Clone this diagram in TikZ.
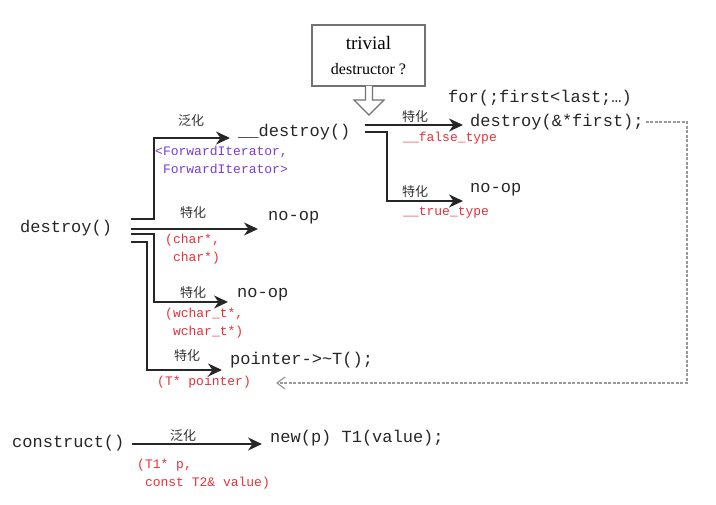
\documentclass[tikz,border=0pt]{standalone}
\usepackage{fontspec}
\setmainfont{Liberation Serif}
\setmonofont{Liberation Mono}
\newfontfamily\cjk{Noto Sans CJK SC}
\usetikzlibrary{arrows.meta,positioning}

\definecolor{argred}{RGB}{228,50,60}
\definecolor{iterblue}{RGB}{120,60,220}

\tikzset{
  code/.style={anchor=west,inner sep=0pt,text=black!85,font=\ttfamily\fontsize{17}{17}\selectfont},
  arg/.style={anchor=west,inner sep=0pt,align=left,text=argred,font=\ttfamily\fontsize{13}{18}\selectfont},
  kind/.style={inner sep=0pt,text=black!80,font=\cjk\fontsize{13}{13}\selectfont},
  link/.style={line width=2pt,draw=black!85,-{Stealth[length=14pt,width=13pt,inset=4.5pt]}},
  back/.style={line width=1.2pt,draw=black!40,dash pattern=on 3pt off 1.5pt,-{Straight Barb[length=8pt,width=12pt]}},
}

\begin{document}
\begin{tikzpicture}[x=1pt,y=-1pt]
  \useasboundingbox (0,0) rectangle (716,505);

  % Functions
  \node[code] (destroy) at (20,228) {destroy()};
  \node[code] (construct) at (12,443) {construct()};

  % Targets
  \node[code] (gdestroy) at (238,132) {\_\_destroy()};
  \node[code] (noopA) at (268,218) {no-op};
  \node[code] (noopB) at (237,295) {no-op};
  \node[code] (ptr) at (230,360) {pointer->\textasciitilde T();};
  \node[code] (loop) at (448,98) {for(;first<last;…)};
  \node[code] (fdestroy) at (470,122) {destroy(\&*first);};
  \node[code] (noopC) at (470,190) {no-op};
  \node[code] (newp) at (270,438) {new(p) T1(value);};

  % Question box
  \node[draw=black!55,line width=1.8pt,minimum width=113pt,minimum height=61pt,
    align=center,font=\fontsize{16}{25}\selectfont] (trivial) at (368.5,55.5)
    {{\fontsize{19}{19}\selectfont trivial}\\destructor ?};
  \draw[black!55,line width=1.2pt,fill=white] (365.5,86) -- (365.5,100) -- (354,100)
    -- (369,115) -- (384,100) -- (372.5,100) -- (372.5,86);

  % Kinds
  \node[kind] (k1) at (191,121) {泛化};
  \node[kind] (k2) at (193,213) {特化};
  \node[kind] (k3) at (193,293) {特化};
  \node[kind] (k4) at (187,356) {特化};
  \node[kind] (k5) at (415,117) {特化};
  \node[kind] (k6) at (415,192) {特化};
  \node[kind] (k7) at (183,436) {泛化};

  % Arguments
  \node[arg,text=iterblue] (a1) at (155,159.5) {<ForwardIterator,\\\hphantom{<}ForwardIterator>};
  \node[arg] (a2) at (165,249.5) {(char*,\\\hphantom{(}char*)};
  \node[arg] (a3) at (165,323.5) {(wchar\_t*,\\\hphantom{(}wchar\_t*)};
  \node[arg] (a4) at (157,382) {(T* pointer)};
  \node[arg] (a5) at (403,138) {\_\_false\_type};
  \node[arg] (a6) at (403,213) {\_\_true\_type};
  \node[arg] (a7) at (137,474) {(T1* p,\\\hphantom{(}const T2\& value)};

  % Branches
  \coordinate (s1) at (131,219);
  \coordinate (s2) at (131,229);
  \coordinate (s3) at (131,234);
  \coordinate (s4) at (131,242);
  \coordinate (s5) at (365,125);
  \coordinate (s6) at (365,132);
  \coordinate (s7) at (132,444);
  \coordinate (t1) at (230,138);
  \coordinate (t2) at (258,229);
  \coordinate (t3) at (228,302);
  \coordinate (t4) at (222,370);
  \coordinate (t5) at (463,125);
  \coordinate (t6) at (463,201);
  \coordinate (t7) at (262,444);
  \draw[link] (s1) -- ++(23,0) |- (t1);
  \draw[link] (s2) -- (t2);
  \draw[link] (s3) -- ++(23,0) |- (t3);
  \draw[link] (s4) -- ++(16,0) |- (t4);
  \draw[link] (s5) -- (t5);
  \draw[link] (s6) -- ++(22,0) |- (t6);
  \draw[link] (s7) -- (t7);

  % Back to the pointer case
  \coordinate (turn) at (687,383);
  \coordinate (t8) at (276,383);
  \draw[back] ([xshift=2pt]fdestroy.east) -| (turn) -- (t8);
\end{tikzpicture}
\end{document}
